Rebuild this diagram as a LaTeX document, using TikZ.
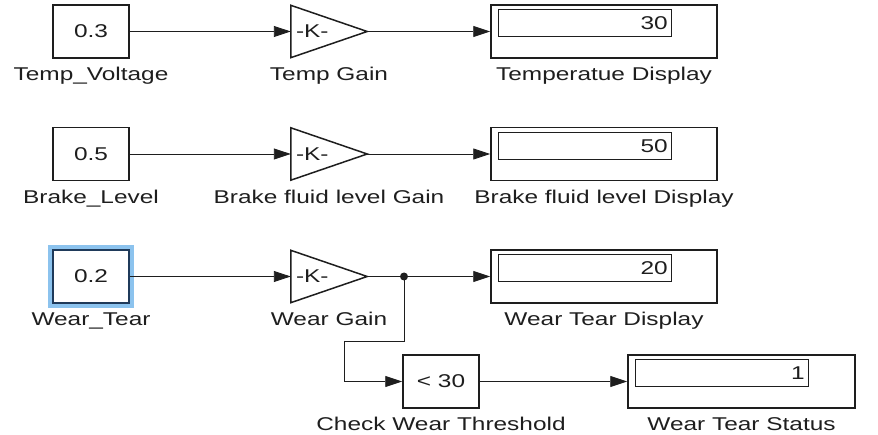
\documentclass[tikz,border=0pt]{standalone}
\usepackage{fontspec}
\setmainfont[FakeStretch=1.32]{Liberation Sans}
\usetikzlibrary{arrows.meta,calc}
\definecolor{ink}{HTML}{1E1E1E}
\definecolor{selblue}{HTML}{8CC3EE}
\definecolor{selrim}{HTML}{1F3A5A}

\begin{document}
\begin{tikzpicture}[x=1pt,y=-1pt,font=\fontsize{18.5}{22}\selectfont,text=ink,>={Triangle[length=17pt,width=11pt]}]
  \tikzset{
    blk/.style={draw=ink,line width=1.5pt,fill=white},
    const/.style={blk,minimum width=76pt,minimum height=53pt,inner sep=0pt},
    gain/.style={minimum width=76pt,minimum height=52pt,inner sep=5pt,
      text width=66pt,align=left},
    disp/.style={blk,minimum width=226pt,minimum height=53pt,inner sep=0pt},
    dispin/.style={draw=ink,line width=1.1pt,minimum height=27pt,
      text width=165pt,inner sep=4pt,align=right,anchor=north west},
    lbl/.style={anchor=base,inner sep=0pt},
    sig/.style={draw=ink,line width=0.9pt,->},
    junc/.style={circle,fill=ink,inner sep=0pt,minimum size=8pt},
    selected/.style={preaction={draw=selblue,line width=10pt},draw=selrim}
  }
  \useasboundingbox (0,0) rectangle (878,435);

  % row 1: temperature
  \node[const] (tv) at (91,31.5) {0.3};
  \node[gain] (tg) at (329,31.5) {-K-};
  \node[disp] (td) at (604,31.5) {};
  \node[dispin] (tdi) at ([shift={(8,5)}]td.north west) {30};
  \node[lbl] (tvl) at (91,81) {Temp\_Voltage};
  \node[lbl] (tgl) at (329,81) {Temp Gain};
  \node[lbl] (tdl) at (604,81) {Temperatue Display};

  % row 2: brake fluid
  \node[const] (bv) at (91,154) {0.5};
  \node[gain] (bg) at (329,154) {-K-};
  \node[disp] (bd) at (604,154) {};
  \node[dispin] (bdi) at ([shift={(8,5)}]bd.north west) {50};
  \node[lbl] (bvl) at (91,203.5) {Brake\_Level};
  \node[lbl] (bgl) at (329,203.5) {Brake fluid level Gain};
  \node[lbl] (bdl) at (604,203.5) {Brake fluid level Display};

  % row 3: wear and tear
  \node[const,selected] (wv) at (91,276.5) {0.2};
  \node[gain] (wg) at (329,276.5) {-K-};
  \node[disp] (wd) at (604,276.5) {};
  \node[dispin] (wdi) at ([shift={(8,5)}]wd.north west) {20};
  \node[lbl] (wvl) at (91,326) {Wear\_Tear};
  \node[lbl] (wgl) at (329,326) {Wear Gain};
  \node[lbl] (wdl) at (604,326) {Wear Tear Display};

  \node[const] (wc) at (441,381.5) {< 30};
  \node[disp,minimum width=227pt] (ws) at (741.5,381.5) {};
  \node[dispin] (wsi) at ([shift={(8,5)}]ws.north west) {1};
  \node[lbl] (wcl) at (441,430.5) {Check Wear Threshold};
  \node[lbl] (wsl) at (741.5,430.5) {Wear Tear Status};

  \foreach \g in {tg,bg,wg}
    \draw[draw=ink,line width=1.5pt,line join=miter]
      (\g.north west) -- (\g.east) -- (\g.south west) -- cycle;

  % signals
  \draw[sig] (tv) -- (tg);
  \draw[sig] (tg) -- (td);
  \draw[sig] (bv) -- (bg);
  \draw[sig] (bg) -- (bd);
  \draw[sig] (wv) -- (wg);
  \draw[sig] (wg) -- (wd);
  \node[junc] (wj) at (404,276.5) {};
  \coordinate (wbend) at (344,341);
  \draw[draw=ink,line width=0.9pt] (wj.center) |- (wbend);
  \draw[sig] (wbend) |- (wc.west);
  \draw[sig] (wc) -- (ws);
\end{tikzpicture}
\end{document}
